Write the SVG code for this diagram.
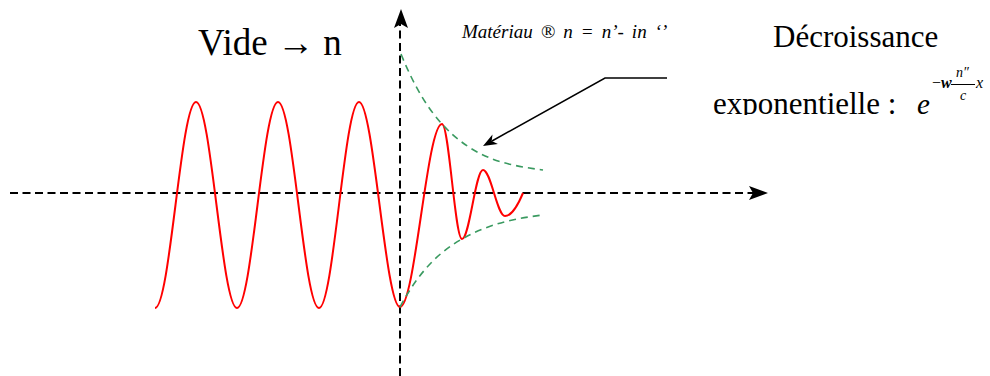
<svg xmlns="http://www.w3.org/2000/svg" width="990" height="376" viewBox="0 0 990 376">
<style>
.axis{stroke:#000;stroke-width:2;stroke-dasharray:8 4.5;fill:none}
.head{fill:#000;stroke:none}
.wave{stroke:#ff0000;stroke-width:2;fill:none;stroke-linejoin:round}
.env{stroke:#3a9a60;stroke-width:1.6;stroke-dasharray:7 5;fill:none}
.ptr{stroke:#000;stroke-width:1.5;fill:none}
.t{font-family:"Liberation Serif","Times New Roman",serif;fill:#000}
.i{font-style:italic}
</style>
<defs>
<clipPath id="cl"><rect x="690" y="80" width="300" height="35"/></clipPath>
</defs>
<g id="connectors">
<line class="axis" x1="10" y1="193" x2="755" y2="193"/>
<polygon class="head" points="768,193 749,186 753,193 749,200"/>
<line class="axis" x1="400" y1="376" x2="400" y2="22"/>
<polygon class="head" points="401,9 394,28 401,24 408,28"/>
<polyline class="ptr" points="667,78 605,78 492,141"/>
<polygon class="head" points="483,146 497.9,144 491.7,141.1 492.5,134.4"/>
</g>
<g id="wave">
<path class="wave" d="M155,308 C170,308 181,102 196,102 C211,102 222,308 237,308 C252,308 263,102 278,102 C293,102 304,308 319,308 C333.5,308 344.5,102 359,102 C373.5,102 385.5,307 400,307 C415,307 427,124 442,124 C449,124 455,239 462,239 C469.5,239 475.5,170 483,170 C491,170 497,216 505,216 C512,216 518,205 523,193"/>
</g>
<g id="envelope">
<path class="env" d="M401,54 C414.7,87.7 428.3,109 442,124 C475.7,160.7 509.3,165.3 543,170"/>
<path class="env" d="M400,307 C420.7,268.3 441.3,250.8 462,239 C489,223.6 516,218.2 543,215"/>
</g>
<g id="label-vide">
<text class="t" x="198" y="55" font-size="37">Vide → n</text>
</g>
<g id="label-materiau">
<text class="t i" x="462" y="38" font-size="19" word-spacing="3.3">Matériau ® n = n’- in ‘’</text>
</g>
<g id="label-decroissance">
<text class="t" x="773" y="47" font-size="31">Décroissance</text>
<g clip-path="url(#cl)">
<text class="t" x="713" y="114" font-size="31">exponentielle :</text>
<text class="t i" x="917" y="114" font-size="29">e</text>
</g>
<text class="t" x="932" y="88" font-size="16">−<tspan font-weight="bold" font-style="italic">w</tspan></text>
<text class="t i" x="956" y="77" font-size="14">n″</text>
<line x1="951" y1="84.5" x2="975" y2="84.5" stroke="#000" stroke-width="1"/>
<text class="t i" x="960" y="100" font-size="14">c</text>
<text class="t i" x="976" y="88" font-size="16">x</text>
</g>
</svg>
